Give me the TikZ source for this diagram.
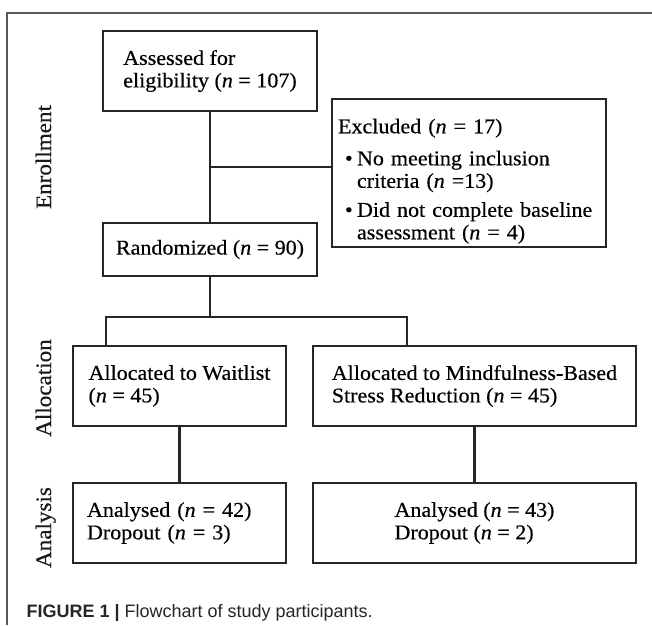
\documentclass[tikz,border=0pt]{standalone}
\usepackage{fontspec}
\setmainfont{Liberation Serif}[FakeStretch=1.05, FakeBold=0.4]
\setsansfont{Liberation Sans}
\usetikzlibrary{calc}

\newcommand{\boxfont}{\fontsize{21}{22.5}\selectfont}
\newcommand{\phasefont}{\fontsize{22}{24}\selectfont}

\begin{document}
\begin{tikzpicture}[x=1pt, y=-1pt,
	box/.style={draw=black!85, line width=2.3pt, align=left, inner sep=0pt, font=\boxfont, text=black},
	link/.style={draw=black!85, line width=2.3pt},
	phase/.style={rotate=90, anchor=base, font=\phasefont, text=black!90}]
	\useasboundingbox (0,0) rectangle (652,625);
	%\draw[help lines, step=50] (0,0) grid (652,625);
	\draw[black!65, line width=1.3pt] (652,13) -- (7,13) -- (7,625);

	\node[box, minimum width=214, minimum height=80] (assess) at (210,71) {Assessed for\\eligibility (\textit{n} = 107)};
	\node[box, text width=262, inner xsep=6, minimum height=148] (excl) at (469,173)
		{\rule{0pt}{31pt}Excluded (\textit{n} = 17)\\[9.5pt]
		\hspace*{7pt}\makebox[12pt][l]{\textbullet}No meeting inclusion\\
		\hspace*{19pt}criteria (\textit{n} =13)\\[6.5pt]
		\hspace*{7pt}\makebox[12pt][l]{\textbullet}Did not complete baseline\\
		\hspace*{19pt}assessment (\textit{n} = 4)};
	\node[box, minimum width=214, minimum height=53] (rand) at (210,249.5) {Randomized (\textit{n} = 90)};
	\node[box, minimum width=213, minimum height=80] (wait) at (179.5,386) {Allocated to Waitlist\\(\textit{n} = 45)};
	\node[box, minimum width=323, minimum height=80] (mbsr) at (474.5,386) {Allocated to Mindfulness-Based\\Stress Reduction (\textit{n} = 45)};
	\node[box, text width=185, inner xsep=14, minimum height=80] (anaw) at (179.5,523) {Analysed (\textit{n} = 42)\\Dropout (\textit{n} = 3)};
	\node[box, minimum width=323, minimum height=80] (anam) at (474.5,523) {Analysed (\textit{n} = 43)\\Dropout (\textit{n} = 2)};

	\node[phase] (enrol) at (51,157) {Enrollment};
	\node[phase] (alloc) at (51,388) {Allocation};
	\node[phase] (analy) at (51,527.5) {Analysis};

	\draw[link] (assess.south) -- (rand.north);
	\coordinate (mid) at ($(assess.south)!0.5!(rand.north)$);
	\draw[link] (mid) -- (mid -| excl.west);
	\coordinate (split) at (210,317);
	\coordinate (splitw) at (106,317);
	\coordinate (splitm) at (407,317);
	\draw[link] (rand.south) -- (split);
	\draw[link] (wait.north -| splitw) -- (splitw) -- (splitm) -- (mbsr.north -| splitm);
	\draw[link] (wait.south) -- (anaw.north);
	\draw[link] (mbsr.south) -- (anam.north);

	\node[anchor=base west, font=\sffamily\fontsize{18}{20}\selectfont, text=black!85] (caption) at (23,617)
		{\textbf{FIGURE 1 |} Flowchart of study participants.};
\end{tikzpicture}
\end{document}
